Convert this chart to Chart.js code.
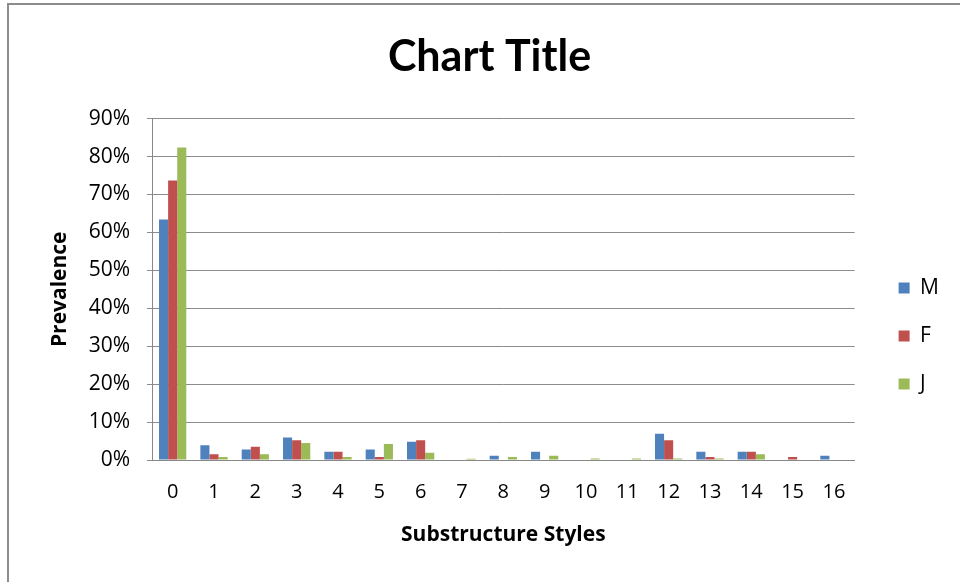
<!DOCTYPE html>
<html>
<head>
<meta charset="utf-8">
<script src="https://cdn.jsdelivr.net/npm/chart.js@4.4.0/dist/chart.umd.min.js"></script>
<style>
    body { margin: 0; background: #fff; overflow: hidden; }
    #frame { position: absolute; left: 7px; top: 3px; width: 1000px; height: 640px; border: 2px solid #8c8c8c; }
    #wrap { position: absolute; left: 0; top: 0; width: 960px; height: 582px; }
</style>
</head>
<body>
<div id="frame"></div>
<div id="wrap"><canvas id="chart" width="960" height="582"></canvas></div>
<script>
const categories = ['0', '1', '2', '3', '4', '5', '6', '7', '8', '9', '10', '11', '12', '13', '14', '15', '16'];
const seriesM = [63.4, 3.9, 2.8, 5.9, 2.2, 2.8, 4.8, 0, 1.1, 2.2, 0, 0, 6.9, 2.2, 2.2, 0, 1.1];
const seriesF = [73.7, 1.5, 3.5, 5.2, 2.2, 0.8, 5.2, 0, 0, 0, 0, 0, 5.2, 0.8, 2.2, 0.8, 0];
const seriesJ = [82.4, 0.8, 1.5, 4.5, 0.8, 4.2, 1.9, 0.35, 0.8, 1.1, 0.4, 0.4, 0.4, 0.4, 1.5, 0, 0];
const yTicks = [0, 10, 20, 30, 40, 50, 60, 70, 80, 90];

const font = "'Open Sans', sans-serif";
const titleFont = "Lato, sans-serif";
const ctx = document.getElementById('chart');

// nudge the right-hand legend to where the original sits
const moveLegend = {
    id: 'moveLegend',
    afterLayout(chart) {
        chart.legend.left += 17;
        chart.legend.right += 17;
        chart.legend.top += 90;
    }
};

new Chart(ctx, {
    type: 'bar',
    data: {
        labels: categories,
        datasets: [
            { label: 'M', data: seriesM, backgroundColor: '#4f81bd' },
            { label: 'F', data: seriesF, backgroundColor: '#c0504d' },
            { label: 'J', data: seriesJ, backgroundColor: '#9bbb59' }
        ]
    },
    plugins: [moveLegend],
    options: {
        responsive: false,
        animation: false,
        layout: { padding: { left: 47, right: 28, top: 0, bottom: 0 } },
        datasets: { bar: { categoryPercentage: 0.66, barPercentage: 1 } },
        plugins: {
            title: {
                display: true,
                text: 'Chart Title',
                color: '#000',
                font: { family: titleFont, size: 43, weight: 'bold' },
                padding: { top: 31, bottom: 36 }
            },
            legend: {
                position: 'right',
                labels: {
                    color: '#000',
                    font: { family: font, size: 21 },
                    boxWidth: 11,
                    boxHeight: 11,
                    padding: 27
                }
            },
            tooltip: { enabled: false }
        },
        scales: {
            x: {
                grid: { display: false, drawTicks: false },
                border: { color: '#888', width: 1 },
                ticks: { color: '#000', font: { family: font, size: 20 }, padding: 20 },
                title: {
                    display: true,
                    text: 'Substructure Styles',
                    color: '#000',
                    font: { family: font, size: 21, weight: 'bold' },
                    padding: { top: 0, bottom: 34 }
                },
                afterFit: s => { s.height = 122; }
            },
            y: {
                min: 0,
                max: 90,
                afterBuildTicks: s => { s.ticks = yTicks.map(v => ({ value: v })); },
                grid: { color: '#8c8c8c', tickLength: 5 },
                border: { color: '#888', width: 1 },
                ticks: {
                    color: '#000',
                    font: { family: font, size: 21 },
                    padding: 17,
                    callback: v => v + '%'
                },
                title: {
                    display: true,
                    text: 'Prevalence',
                    color: '#000',
                    font: { family: font, size: 21, weight: 'bold' },
                    padding: { top: 0, bottom: 0 }
                },
                afterFit: s => { s.width = 105; }
            }
        }
    }
});
</script>
</body>
</html>
